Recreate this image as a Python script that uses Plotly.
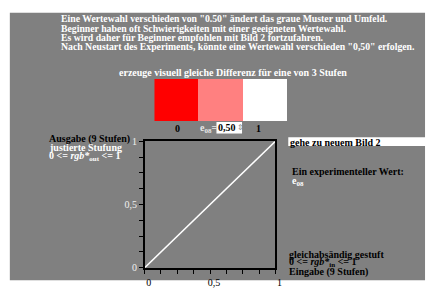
import plotly.graph_objects as go

W, H = 434, 292

# data
x_in = [0, 0.125, 0.25, 0.375, 0.5, 0.625, 0.75, 0.875, 1]
y_out = [0, 0.125, 0.25, 0.375, 0.5, 0.625, 0.75, 0.875, 1]
tick_vals = [0, 0.125, 0.25, 0.375, 0.5, 0.625, 0.75, 0.875, 1]
tick_text = ["0", "", "", "", "0,5", "", "", "", "1"]
patch_steps = ["0", "0,5", "1"]
patch_colors = ["#ff0000", "#ff8080", "#ffffff"]
patch_heights = [1, 1, 1]

intro_lines = [
    'Eine Wertewahl verschieden von "0.50" ändert das graue Muster und Umfeld.',
    'Beginner haben oft Schwierigkeiten mit einer geeigneten Wertewahl.',
    'Es wird daher für Beginner empfohlen mit Bild 2 fortzufahren.',
    'Nach Neustart des Experiments, könnte eine Wertewahl verschieden "0,50" erfolgen.',
]

FONT = "Liberation Serif"
GRAY = "#808080"


def px(x):
    return x / W


def py(y):
    return 1 - y / H


fig = go.Figure()

# main diagonal
fig.add_trace(go.Scatter(x=x_in, y=y_out, mode="lines",
                         line=dict(color="white", width=1.5),
                         xaxis="x", yaxis="y", showlegend=False, hoverinfo="skip"))

# colour patches
fig.add_trace(go.Bar(x=patch_steps, y=patch_heights, marker=dict(color=patch_colors, line=dict(width=0)),
                     width=1, xaxis="x2", yaxis="y2", showlegend=False, hoverinfo="skip"))

shapes = [
    dict(type="rect", xref="paper", yref="paper", x0=px(10), x1=px(432), y0=py(286), y1=py(7),
         fillcolor=GRAY, line=dict(width=0), layer="below"),
    dict(type="rect", xref="paper", yref="paper", x0=px(293), x1=px(434), y0=py(146), y1=py(137),
         fillcolor="white", line=dict(width=0), layer="below"),
    dict(type="rect", xref="paper", yref="paper", x0=px(220), x1=px(246), y0=py(133), y1=py(121),
         fillcolor="white", line=dict(width=0), layer="below"),
]

ann = []


def text(x, y, s, color="white", size=10, anchor="left"):
    ann.append(dict(x=px(x), y=py(y), xref="paper", yref="paper", text=s, showarrow=False,
                    xanchor=anchor, yanchor="middle", align="left", borderpad=0,
                    font=dict(family=FONT, size=size, color=color)))


for i, line in enumerate(intro_lines):
    text(61, 13.5 + i * 9.6, "<b>" + line + "</b>", size=9.75)

text(120, 69, "<b>erzeuge visuell gleiche Differenz für eine von 3 Stufen</b>")
text(180, 128, "<b>0</b>", "black", anchor="center")
text(263, 128, "<b>1</b>", "black", anchor="center")
text(202, 128, "<b>e<sub>08</sub>=</b>", "#e8e8e8")
text(221, 127, "<b>0,50</b>", "black")
text(240, 127, "⇕", "#888888", size=8)

text(49, 139, "<b>Ausgabe (9 Stufen)</b>", "black")
text(49, 148, "<b>justierte Stufung</b>")
text(49, 157, "<b>0 &lt;= <i>rgb*</i><sub>out</sub> &lt;= 1</b>")

text(294, 142, "<b>gehe zu neuem Bild 2</b>", "black")
text(296, 173, "<b>Ein experimenteller Wert:</b>", "black")
text(296, 183, "<b>e<sub>08</sub></b>")

text(293, 259, "<b>gleichabsändig gestuft</b>", "black")
text(293, 268, "<b>0 &lt;= <i>rgb*</i><sub>in</sub> &lt;= 1</b>", "black")
text(293, 277, "<b>Eingabe (9 Stufen)</b>", "black")

fig.update_layout(
    width=W, height=H,
    margin=dict(l=0, r=0, t=0, b=0),
    paper_bgcolor="white",
    plot_bgcolor="rgba(0,0,0,0)",
    shapes=shapes,
    annotations=ann,
    bargap=0,
    xaxis=dict(domain=[px(147), px(280)], range=[0, 1], anchor="y",
               showline=True, linecolor="black", linewidth=1.5, mirror=True,
               showgrid=False, zeroline=False,
               tickmode="array", tickvals=tick_vals, ticktext=tick_text,
               ticks="outside", ticklen=4, tickcolor="black", tickwidth=1,
               ticklabelshift=4,
               tickfont=dict(family=FONT, size=10, color="black")),
    yaxis=dict(domain=[py(273), py(141)], range=[0, 1], anchor="x",
               showline=True, linecolor="black", linewidth=1.5, mirror=True,
               showgrid=False, zeroline=False,
               tickmode="array", tickvals=tick_vals, ticktext=tick_text,
               ticks="outside", ticklen=4, tickcolor="black", tickwidth=1,
               tickfont=dict(family=FONT, size=10, color="#f0f0f0")),
    xaxis2=dict(domain=[px(157), px(292)], anchor="y2", visible=False, range=[-0.5, 2.5]),
    yaxis2=dict(domain=[py(120), py(76)], anchor="x2", visible=False, range=[0, 1]),
)

fig.write_html("out.html", config={"displayModeBar": False},
               post_script="document.body.style.margin='0';document.body.style.overflow='hidden';")
